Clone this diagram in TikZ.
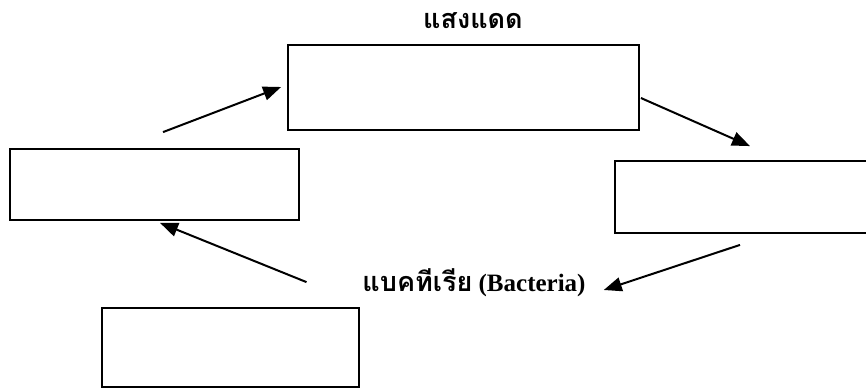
\documentclass[tikz,border=0pt]{standalone}
\usepackage{fontspec}
\setmainfont{Liberation Serif}
\newfontfamily\thaifont[Script=Thai]{Loma}
\usetikzlibrary{positioning, arrows.meta}

\begin{document}
\begin{tikzpicture}[x=1pt,y=-1pt,
    box/.style={draw, line width=1.8pt, inner sep=0pt},
    arr/.style={line width=2pt, -{Triangle[length=18pt,width=14pt]}},
    lbl/.style={inner sep=0pt, font=\bfseries\fontsize{25}{28}\selectfont}]
    \useasboundingbox (0,0) rectangle (866,388);

    % Boxes
    \node[box, minimum width=351pt, minimum height=85pt] (sun) at (463.5,87.5) {};
    \node[box, minimum width=289pt, minimum height=71pt] (left) at (154.5,184.5) {};
    \node[box, minimum width=270pt, minimum height=72pt] (right) at (750,197) {};
    \node[box, minimum width=257pt, minimum height=79pt] (bottom) at (230.5,347.5) {};

    % Labels
    \node[lbl, font=\bfseries\thaifont\fontsize{27}{30}\selectfont] (sunlbl) at (473,21) {แสงแดด};
    \node[lbl] (bact) at (474,283) {{\thaifont\fontsize{27}{30}\selectfont แบคทีเรีย} (Bacteria)};

    % Arrows
    \draw[arr] ([shift={(8.5,-16)}]left.north) -- ([shift={(-6,-0.5)}]sun.west);
    \draw[arr] ([shift={(1,10.5)}]sun.east) -- ([shift={(0,-14)}]right.north);
    \draw[arr] ([shift={(-10,11)}]right.south) -- ([shift={(18,7)}]bact.east);
    \draw[arr] ([shift={(76,-25)}]bottom.north) -- ([shift={(5.5,2)}]left.south);
\end{tikzpicture}
\end{document}
